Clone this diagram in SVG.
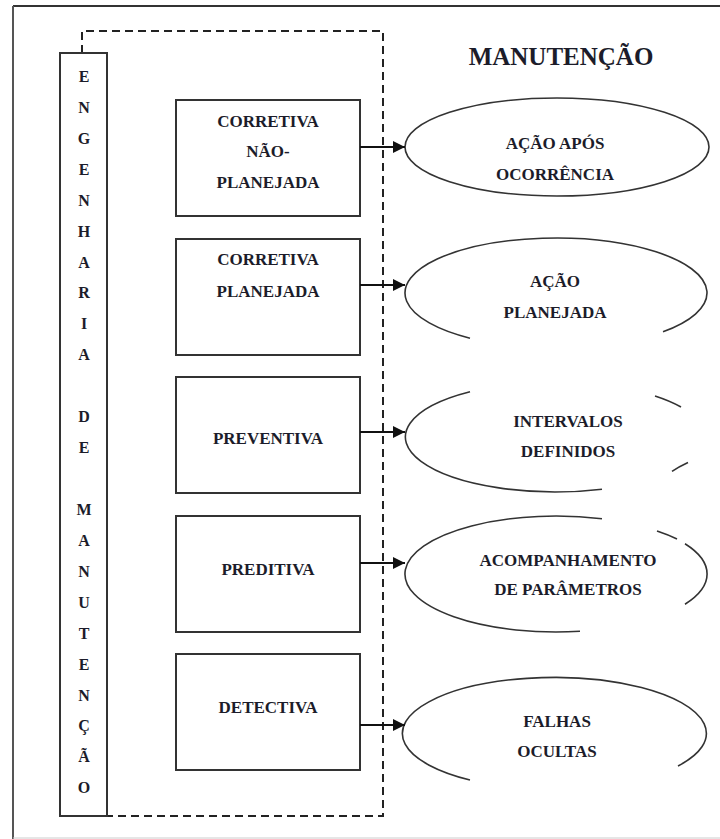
<svg xmlns="http://www.w3.org/2000/svg" width="720" height="839" viewBox="0 0 720 839" font-family="'Liberation Serif', 'Times New Roman', serif">
<defs>
<style>
text{font-family:"Liberation Serif","Times New Roman",serif;font-weight:bold;fill:#1c1c2a;text-anchor:middle}
.box{fill:#fff;stroke:#333;stroke-width:2}
.ell{fill:none;stroke:#333;stroke-width:1.6}
.dash{fill:none;stroke:#222;stroke-width:2;stroke-dasharray:8 5}
.lbl{font-size:17px}
.vert{font-size:16px}
.conn{stroke:#111;stroke-width:2;fill:none}
</style>
<marker id="ah" viewBox="0 0 10 10" refX="10" refY="5" markerWidth="6" markerHeight="6" markerUnits="strokeWidth" orient="auto">
<path d="M0,0 L10,5 L0,10 z" fill="#111"/>
</marker>
</defs>
<rect width="720" height="839" fill="#fff"/>
<g id="frame">
<line x1="13" y1="6" x2="720" y2="6" stroke="#333" stroke-width="2"/>
<line x1="13" y1="6" x2="13" y2="839" stroke="#555" stroke-width="2"/>
<line x1="13" y1="838" x2="720" y2="838" stroke="#ccc" stroke-width="1"/>
</g>
<g id="dashed-group">
<path class="dash" d="M82,53 V31 H383 V816 H82"/>
</g>
<g id="engenharia">
<rect x="60" y="53" width="47" height="763" fill="none" stroke="#333" stroke-width="2"/>
<text class="vert" x="84" y="82">E</text>
<text class="vert" x="84" y="113">N</text>
<text class="vert" x="84" y="144">G</text>
<text class="vert" x="84" y="175">E</text>
<text class="vert" x="84" y="206">N</text>
<text class="vert" x="84" y="237">H</text>
<text class="vert" x="84" y="268">A</text>
<text class="vert" x="84" y="298">R</text>
<text class="vert" x="84" y="329">I</text>
<text class="vert" x="84" y="360">A</text>
<text class="vert" x="84" y="422">D</text>
<text class="vert" x="84" y="453">E</text>
<text class="vert" x="84" y="515">M</text>
<text class="vert" x="84" y="546">A</text>
<text class="vert" x="84" y="577">N</text>
<text class="vert" x="84" y="608">U</text>
<text class="vert" x="84" y="639">T</text>
<text class="vert" x="84" y="670">E</text>
<text class="vert" x="84" y="701">N</text>
<text class="vert" x="84" y="731">Ç</text>
<text class="vert" x="84" y="762">Ã</text>
<text class="vert" x="84" y="793">O</text>
</g>
<g id="title">
<text x="561" y="65" font-size="25">MANUTENÇÃO</text>
</g>
<g id="corretiva-nao-planejada">
<rect class="box" x="176" y="100" width="184" height="116"/>
<text class="lbl" x="268" y="127">CORRETIVA</text>
<text class="lbl" x="268" y="157">NÃO-</text>
<text class="lbl" x="268" y="188">PLANEJADA</text>
</g>
<g id="corretiva-planejada">
<rect class="box" x="176" y="239" width="184" height="116"/>
<text class="lbl" x="268" y="265">CORRETIVA</text>
<text class="lbl" x="268" y="297">PLANEJADA</text>
</g>
<g id="preventiva">
<rect class="box" x="176" y="377" width="184" height="116"/>
<text class="lbl" x="268" y="444">PREVENTIVA</text>
</g>
<g id="preditiva">
<rect class="box" x="176" y="516" width="184" height="116"/>
<text class="lbl" x="268" y="575">PREDITIVA</text>
</g>
<g id="detectiva">
<rect class="box" x="176" y="654" width="184" height="116"/>
<text class="lbl" x="268" y="713">DETECTIVA</text>
</g>
<g id="acao-apos-ocorrencia">
<ellipse class="ell" cx="557" cy="147" rx="152" ry="49"/>
<text class="lbl" x="555" y="149">AÇÃO APÓS</text>
<text class="lbl" x="555" y="180">OCORRÊNCIA</text>
</g>
<g id="acao-planejada">
<path class="ell" d="M663,331.8 A151,55 0 1 0 470,338.2"/>
<text class="lbl" x="555" y="287">AÇÃO</text>
<text class="lbl" x="555" y="318">PLANEJADA</text>
</g>
<g id="intervalos-definidos">
<path class="ell" d="M470,391.7 A150,55 0 0 0 602,489.2"/>
<path class="ell" d="M655,396 A150,55 0 0 1 681,407"/>
<path class="ell" d="M672,471.4 A150,55 0 0 1 688,462.4"/>
<text class="lbl" x="568" y="427">INTERVALOS</text>
<text class="lbl" x="568" y="457">DEFINIDOS</text>
</g>
<g id="acompanhamento">
<path class="ell" d="M602,518.8 A151,58 0 1 0 580,631.3"/>
<path class="ell" d="M657,531 A151,58 0 0 1 677,539"/>
<path class="ell" d="M685,543.8 A151,58 0 0 1 685,604.2"/>
<text class="lbl" x="568" y="566">ACOMPANHAMENTO</text>
<text class="lbl" x="568" y="595">DE PARÂMETROS</text>
</g>
<g id="falhas-ocultas">
<path class="ell" d="M678,766 A152,56 0 1 0 470,780"/>
<text class="lbl" x="557" y="727">FALHAS</text>
<text class="lbl" x="557" y="757">OCULTAS</text>
</g>
<g id="connectors">
<line class="conn" x1="360" y1="147" x2="405" y2="147" marker-end="url(#ah)"/>
<line class="conn" x1="360" y1="285" x2="405" y2="285" marker-end="url(#ah)"/>
<line class="conn" x1="360" y1="432" x2="405" y2="432" marker-end="url(#ah)"/>
<line class="conn" x1="360" y1="563" x2="405" y2="563" marker-end="url(#ah)"/>
<line class="conn" x1="360" y1="725" x2="405" y2="725" marker-end="url(#ah)"/>
</g>
</svg>
